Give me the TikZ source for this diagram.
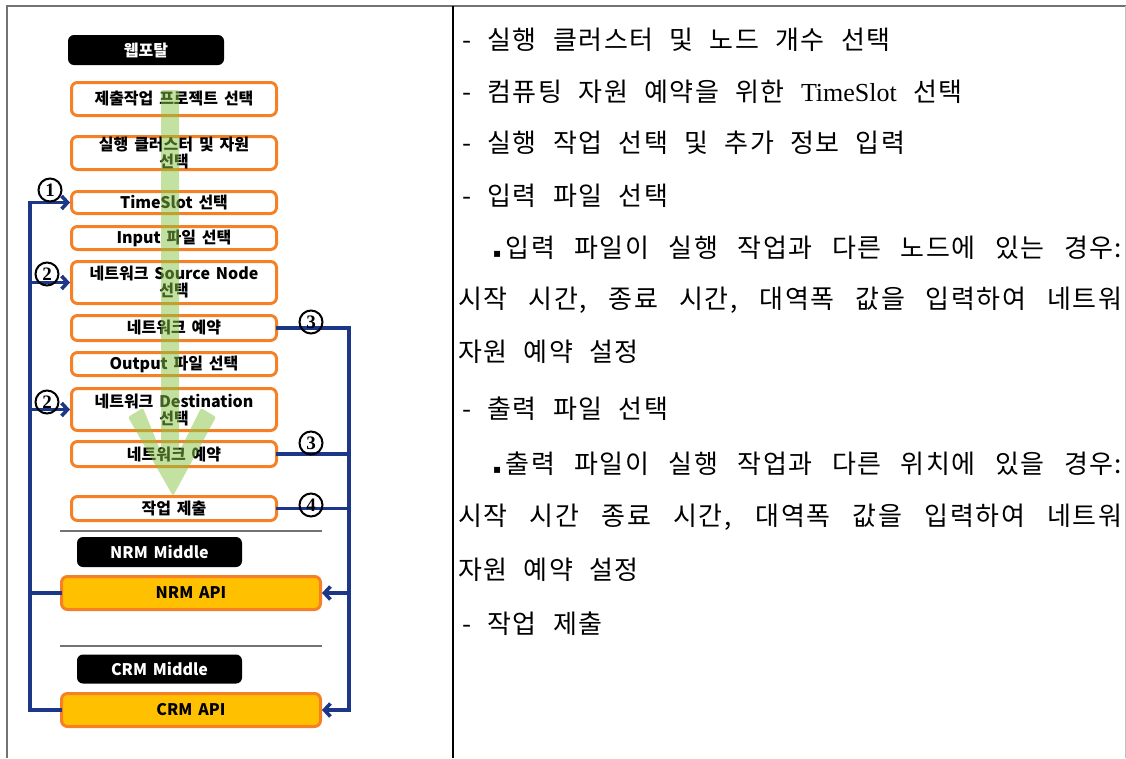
\documentclass[tikz,border=0pt]{standalone}
\usepackage{fontspec}
\setmainfont{Liberation Serif}
\newfontfamily\fkr{Noto Sans CJK KR}[WordSpace=2.2, LetterSpace=6]
\newfontfamily\fkrb{Noto Sans CJK KR}[WordSpace=1.6]
\newfontfamily\fsym{DejaVu Sans}
\newfontfamily\flatin{Liberation Serif}
\usetikzlibrary{arrows.meta}
\definecolor{orng}{RGB}{245,128,37}
\definecolor{apifill}{RGB}{255,192,0}
\definecolor{navy}{RGB}{28,55,135}
\definecolor{grn}{RGB}{135,195,65}
\definecolor{tgrey}{RGB}{115,115,115}
\tikzset{
  stepbox/.style={draw=orng, line width=3pt, rounded corners=6pt, fill=white,
    minimum width=205pt, inner sep=0pt, align=center,
    font=\fkrb\bfseries\fontsize{16}{17}\selectfont},
  blk/.style={fill=black, rounded corners=6pt, text=white, inner sep=0pt,
    font=\fkrb\bfseries\fontsize{16}{17}\selectfont},
  api/.style={draw=orng, fill=apifill, line width=3pt, rounded corners=6pt,
    minimum width=259pt, minimum height=33pt, inner sep=0pt,
    font=\fkrb\bfseries\fontsize{16}{17}\selectfont},
  bus/.style={draw=navy, line width=3.6pt, line cap=rect},
  arr/.style={-{Straight Barb[length=6pt,width=13pt]}},
  num/.style={circle, draw=black, line width=2pt, minimum size=23pt, inner sep=0pt,
    font=\flatin\bfseries\fontsize{19}{19}\selectfont},
  txt/.style={anchor=west, inner sep=0pt, font=\fkr\fontsize{26}{26}\selectfont},
  sep/.style={draw=tgrey, line width=2pt}
}
\begin{document}
\begin{tikzpicture}[x=1pt, y=-1pt]
\useasboundingbox (0,0) rectangle (1126,758);
% table frame
\draw[tgrey, line width=2pt] (7,758) -- (7,6) -- (1126,6);
\draw[lightgray, line width=1pt] (1125,6) -- (1125,758);
\draw[black, line width=1.5pt] (453,6) -- (453,758);

% left diagram
\node[blk, minimum width=156pt, minimum height=30pt] (portal) at (146,50) {웹포탈};
\node[stepbox, minimum height=33pt] (n1) at (174,99) {제출작업 프로젝트 선택};
\node[stepbox, minimum height=33pt] (n2) at (174,153) {실행 클러스터 및 자원\\선택};
\node[stepbox, minimum height=22pt] (ts) at (174,202.5) {TimeSlot 선택};
\node[stepbox, minimum height=23pt] (inp) at (174,238) {Input 파일 선택};
\node[stepbox, minimum height=42pt] (src) at (174,282.5) {네트워크 Source Node\\선택};
\node[stepbox, minimum height=25pt] (res1) at (174,328) {네트워크 예약};
\node[stepbox, minimum height=23pt] (out) at (174,364) {Output 파일 선택};
\node[stepbox, minimum height=42pt] (dst) at (174,409.5) {네트워크 Destination\\선택};
\node[stepbox, minimum height=25pt] (res2) at (174,454) {네트워크 예약};
\node[stepbox, minimum height=24pt] (sub) at (174,508.5) {작업 제출};

\draw[sep] (60,531) -- (322,531);
\node[blk, minimum width=165pt, minimum height=30pt] (nrmm) at (159.5,552) {NRM Middle};
\node[api] (nrm) at (191,593) {NRM API};
\draw[sep] (60,646) -- (322,646);
\node[blk, minimum width=165pt, minimum height=29pt] (crmm) at (159.5,669) {CRM Middle};
\node[api] (crm) at (191,710) {CRM API};

% green flow arrow
\fill[grn, opacity=0.5, rounded corners=2pt] (161,90) -- (179,90) -- (179,452) -- (201,408) -- (216,417) -- (173,496) -- (128,417) -- (143,408) -- (161,452) -- cycle;

% buses
\coordinate (lb) at (30,0);
\coordinate (rb) at (349,0);
\draw[bus, arr] (crm.west) -- (crm.west -| lb) |- (ts.west);
\draw[bus, arr] (src.west -| lb) -- (src.west);
\draw[bus, arr] (dst.west -| lb) -- (dst.west);
\draw[bus] (nrm.west -| lb) -- (nrm.west);
\draw[bus, arr] (res1.east) -| (rb |- crm.east) -- (crm.east);
\draw[bus] (res2.east) -- (res2.east -| rb);
\draw[bus] (sub.east) -- (sub.east -| rb);
\draw[bus, arr] (nrm.east -| rb) -- (nrm.east);

% circled numbers
\node[num] (c1) at (50,190) {1};
\node[num] (c2a) at (47,274) {2};
\node[num] (c2b) at (47,402) {2};
\node[num] (c3a) at (311,322) {3};
\node[num] (c3b) at (311,443) {3};
\node[num] (c4) at (311,505) {4};

% right column text
\node[txt] (t1) at (462,40) {- 실행 클러스터 및 노드 개수 선택};
\node[txt] (t2) at (462,92) {- 컴퓨팅 자원 예약을 위한 {\flatin TimeSlot} 선택};
\node[txt] (t3) at (462,143) {- 실행 작업 선택 및 추가 정보 입력};
\node[txt] (t4) at (462,196) {- 입력 파일 선택};
\node[txt] (t5) at (493,248) {\makebox[629pt][s]{{\fsym\fontsize{12}{12}\selectfont ▪}\,입력 파일이 실행 작업과 다른 노드에 있는 경우:}};
\node[txt] (t6) at (458,300) {\makebox[664pt][s]{시작 시간, 종료 시간, 대역폭 값을 입력하여 네트워}};
\node[txt] (t7) at (458,352) {자원 예약 설정};
\node[txt] (t8) at (462,409) {- 출력 파일 선택};
\node[txt] (t9) at (493,464) {\makebox[629pt][s]{{\fsym\fontsize{12}{12}\selectfont ▪}\,출력 파일이 실행 작업과 다른 위치에 있을 경우:}};
\node[txt] (t10) at (458,517) {\makebox[664pt][s]{시작 시간 종료 시간, 대역폭 값을 입력하여 네트워}};
\node[txt] (t11) at (458,570) {자원 예약 설정};
\node[txt] (t12) at (462,624) {- 작업 제출};
\end{tikzpicture}
\end{document}
